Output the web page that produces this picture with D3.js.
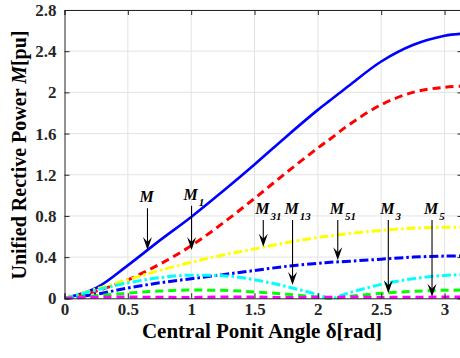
<!DOCTYPE html>
<html>
<head>
<meta charset="utf-8">
<script src="https://cdn.jsdelivr.net/npm/d3@7/dist/d3.min.js"></script>
<style>
  html, body { margin: 0; padding: 0; background: #fff; }
  svg { display: block; font-family: "Liberation Serif", "Times New Roman", serif; }
</style>
</head>
<body>
<svg id="chart" width="460" height="358"></svg>
<script>
// Central point angle samples (rad)
const delta = [0, 0.25, 0.5, 0.75, 1.0, 1.25, 1.5, 1.75, 2.0, 2.1, 2.25, 2.5, 2.75, 3.0, Math.PI];

// Unified reactive power components [pu]
const seriesM   = [0, 0.10, 0.32, 0.56, 0.79, 1.04, 1.30, 1.57, 1.83, 1.925, 2.07, 2.30, 2.46, 2.55, 2.57];
const seriesM1  = [0, 0.07, 0.18, 0.33, 0.51, 0.73, 0.97, 1.22, 1.46, 1.55, 1.69, 1.88, 2.00, 2.05, 2.06];
const seriesM31 = [0, 0.09, 0.18, 0.27, 0.35, 0.42, 0.48, 0.54, 0.59, 0.605, 0.63, 0.66, 0.68, 0.69, 0.69];
const seriesM13 = [0, 0.04, 0.10, 0.15, 0.19, 0.23, 0.27, 0.31, 0.34, 0.35, 0.36, 0.38, 0.40, 0.41, 0.41];
const seriesM51 = [0, 0.08, 0.15, 0.20, 0.225, 0.22, 0.18, 0.115, 0.035, 0.0, 0.055, 0.135, 0.19, 0.222, 0.23];
const seriesM3  = [0, 0.025, 0.05, 0.07, 0.08, 0.077, 0.062, 0.04, 0.012, 0.0, 0.02, 0.048, 0.068, 0.078, 0.08];
const seriesM5  = [0, 0.01, 0.012, 0.01, 0.008, 0.012, 0.012, 0.008, 0.01, 0.01, 0.012, 0.01, 0.01, 0.012, 0.012];

const xTicks = [0, 0.5, 1, 1.5, 2, 2.5, 3];
const yTicks = [0, 0.4, 0.8, 1.2, 1.6, 2, 2.4, 2.8];

// Annotation arrows: label, subscript, x position (rad), tip value, arrow tail value
const arrowNames = ["M", "M", "M", "M", "M", "M", "M"];
const arrowSubs  = ["", "1", "31", "13", "51", "3", "5"];
const arrowX     = [0.655, 1.003, 1.569, 1.80, 2.157, 2.556, 2.901];
const arrowTip   = [0.47, 0.47, 0.50, 0.13, 0.37, 0.05, 0.015];
const arrowTop   = [0.875, 0.90, 0.76, 0.76, 0.76, 0.76, 0.76];

const svg = d3.select("#chart");
const margin = { left: 64.5, top: 10, bottom: 59.7 };
const plotW = 398;
const plotH = 358 - margin.top - margin.bottom;

const x = d3.scaleLinear().domain([0, Math.PI]).range([margin.left, margin.left + plotW]);
const y = d3.scaleLinear().domain([0, 2.8]).range([margin.top + plotH, margin.top]);

const axisColor = "#262626";

// grid
const grid = svg.append("g");
grid.selectAll("line.gx").data(xTicks.slice(1)).join("line")
  .attr("x1", d => x(d)).attr("x2", d => x(d))
  .attr("y1", y(0)).attr("y2", y(2.8))
  .attr("stroke", "#e3e3e3").attr("stroke-width", 1);
grid.selectAll("line.gy").data(yTicks.slice(1)).join("line")
  .attr("x1", x(0)).attr("x2", x(Math.PI))
  .attr("y1", d => y(d)).attr("y2", d => y(d))
  .attr("stroke", "#e3e3e3").attr("stroke-width", 1);

// series lines
const smooth = d3.curveCatmullRom.alpha(0.5);
const styles = [
  { data: seriesM,   color: "#0000ff", dash: null,        w: 2.6, curve: smooth },
  { data: seriesM1,  color: "#ff0000", dash: "8,5",       w: 3,   curve: smooth },
  { data: seriesM31, color: "#ffff00", dash: "9,3,2.5,3", w: 3,   curve: smooth },
  { data: seriesM13, color: "#0000ff", dash: "9,3,2.5,3", w: 3,   curve: smooth },
  { data: seriesM51, color: "#00ffff", dash: "9,3,2.5,3", w: 3,   curve: d3.curveMonotoneX },
  { data: seriesM3,  color: "#00ff00", dash: "8,5",       w: 3,   curve: d3.curveMonotoneX },
  { data: seriesM5,  color: "#ff00ff", dash: "8,5",       w: 3,   curve: d3.curveMonotoneX }
];

svg.append("clipPath").attr("id", "plotClip")
  .append("rect").attr("x", x(0)).attr("y", y(2.8) - 2)
  .attr("width", plotW).attr("height", plotH + 4);

const lines = svg.append("g").attr("clip-path", "url(#plotClip)");
styles.forEach(s => {
  const line = d3.line()
    .x((d, i) => x(delta[i]))
    .y(d => y(d))
    .curve(s.curve);
  lines.append("path")
    .attr("d", line(s.data))
    .attr("fill", "none")
    .attr("stroke", s.color)
    .attr("stroke-width", s.w)
    .attr("stroke-dasharray", s.dash)
    .attr("stroke-linejoin", "round");
});

// axes (box with inward ticks)
const tickFont = "bold 17px 'Liberation Serif', serif";
const xAxisB = d3.axisBottom(x).tickValues(xTicks).tickSize(-5).tickPadding(5).tickFormat(d3.format("~g"));
const xAxisT = d3.axisTop(x).tickValues(xTicks).tickSize(-5).tickFormat("");
const yAxisL = d3.axisLeft(y).tickValues(yTicks).tickSize(-5).tickPadding(8).tickFormat(d3.format("~g"));
const yAxisR = d3.axisRight(y).tickValues(yTicks).tickSize(-5).tickFormat("");

function styleAxis(g) {
  g.selectAll("path, line").attr("stroke", axisColor).attr("stroke-width", 1);
  g.selectAll("text").attr("fill", axisColor).style("font", tickFont);
}

svg.append("g").attr("transform", `translate(0,${y(0)})`).call(xAxisB).call(styleAxis);
svg.append("g").attr("transform", `translate(0,${y(2.8)})`).call(xAxisT).call(styleAxis);
svg.append("g").attr("transform", `translate(${x(0)},0)`).call(yAxisL).call(styleAxis);
svg.append("g").attr("transform", `translate(${x(Math.PI)},0)`).call(yAxisR).call(styleAxis);
svg.selectAll(".domain").attr("fill", "none");

// axis titles
svg.append("text")
  .attr("x", 262).attr("y", 338)
  .attr("text-anchor", "middle")
  .style("font", "bold 21px 'Liberation Serif', serif")
  .attr("fill", "#000")
  .text("Central Ponit Angle δ[rad]");

const yl = svg.append("text")
  .attr("transform", "translate(26,155) rotate(-90)")
  .attr("text-anchor", "middle")
  .style("font", "bold 20px 'Liberation Serif', serif")
  .attr("fill", "#000");
yl.append("tspan").text("Unified Rective Power ");
yl.append("tspan").attr("font-style", "italic").text("M");
yl.append("tspan").text("[pu]");

// annotation arrows
const ann = svg.append("g");
arrowX.forEach((ax, i) => {
  const px = x(ax);
  const yTop = y(arrowTop[i]);
  const yTip = y(arrowTip[i]);
  ann.append("line")
    .attr("x1", px).attr("x2", px)
    .attr("y1", yTop).attr("y2", yTip - 4)
    .attr("stroke", "#000").attr("stroke-width", 1.1);
  ann.append("path")
    .attr("d", `M${px - 4.5},${yTip - 13} L${px},${yTip} L${px + 4.5},${yTip - 13} L${px},${yTip - 8} Z`)
    .attr("fill", "#000");
  const t = ann.append("text")
    .attr("x", px - 8).attr("y", yTop - 6)
    .style("font", "bold italic 16px 'Liberation Serif', serif")
    .attr("fill", "#000");
  t.append("tspan").text(arrowNames[i]);
  if (arrowSubs[i]) {
    t.append("tspan").attr("dy", 6).attr("dx", 1)
      .style("font-size", "11px").text(arrowSubs[i]);
  }
});
</script>
</body>
</html>
